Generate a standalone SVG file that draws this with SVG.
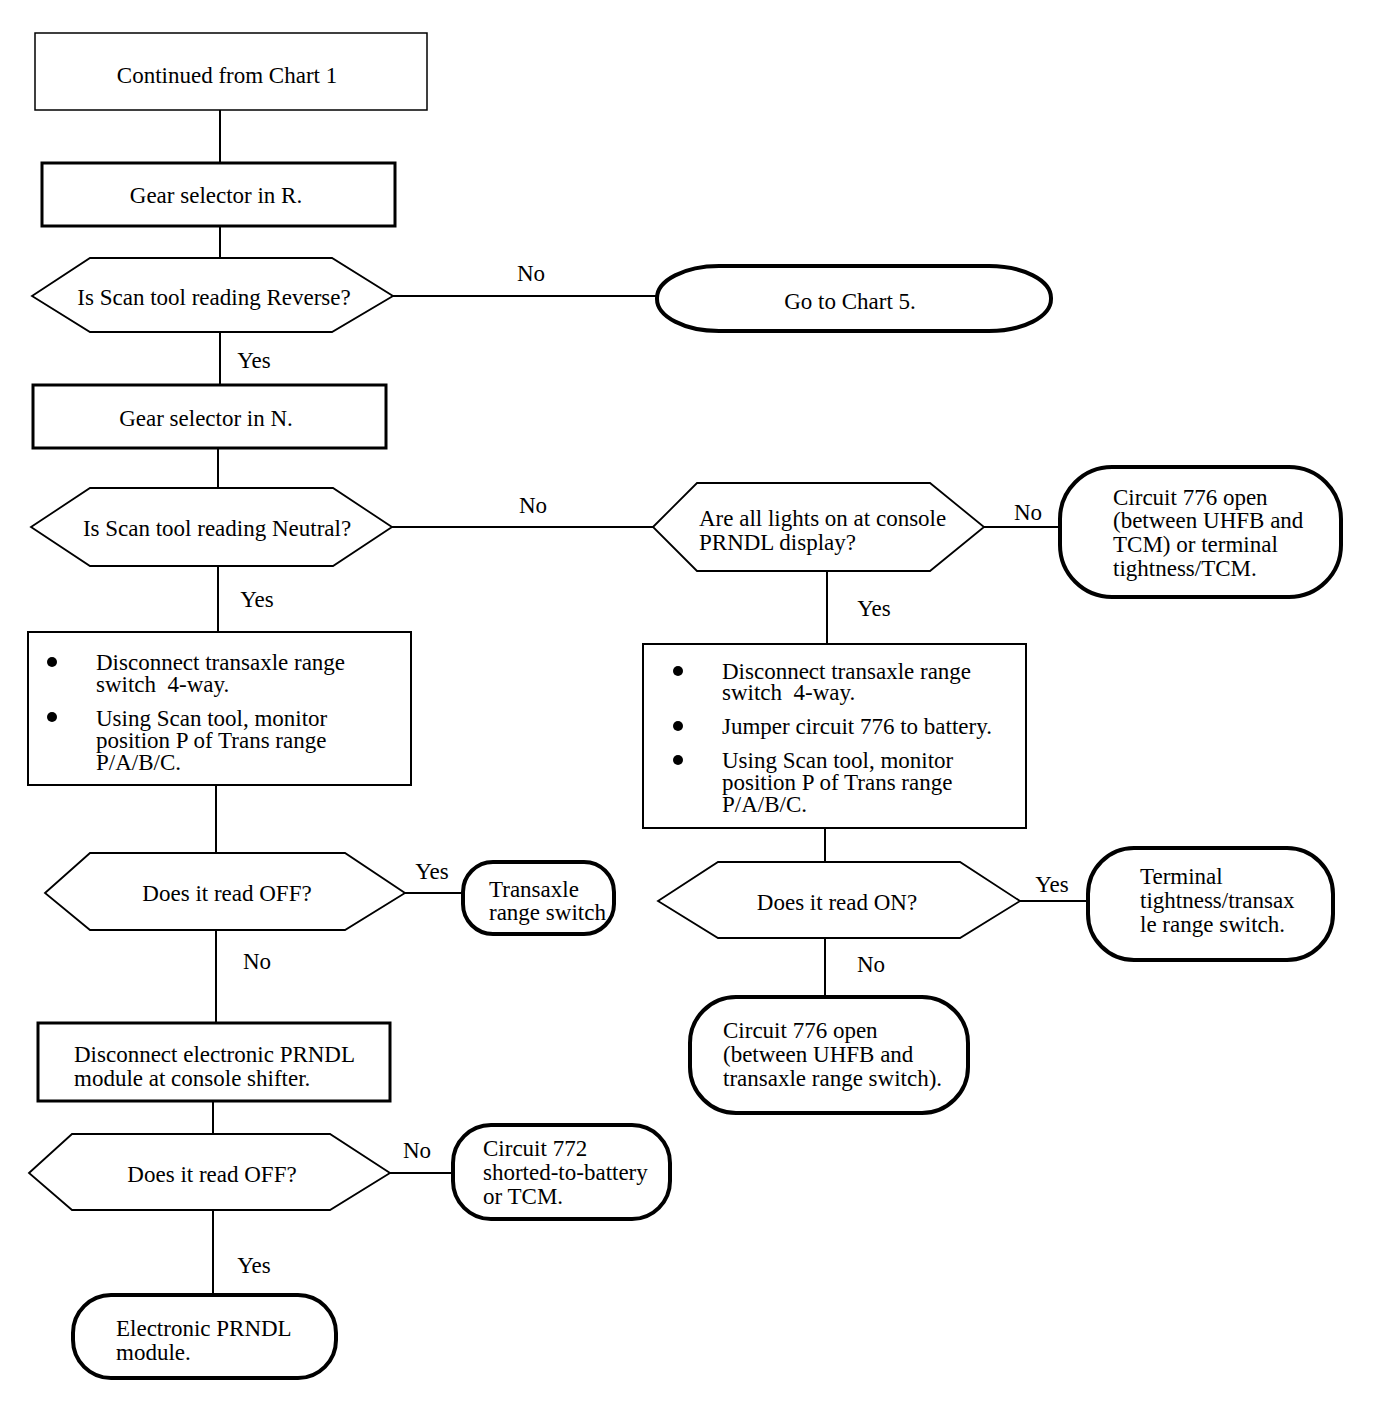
<svg xmlns="http://www.w3.org/2000/svg" width="1376" height="1404" viewBox="0 0 1376 1404">
<style>
text{font-family:"Liberation Serif","Times New Roman",serif;font-size:23px;fill:#000;white-space:pre}
.c{text-anchor:middle}
.box{fill:#fff;stroke:#000;stroke-width:2}
.boxb{fill:#fff;stroke:#000;stroke-width:3}
.hex{fill:#fff;stroke:#000;stroke-width:1.8}
.term{fill:#fff;stroke:#000;stroke-width:4}
.conn line{stroke:#000;stroke-width:2}
.dot{fill:#000}
</style>
<rect width="1376" height="1404" fill="#fff"/>
<g class="conn" id="connectors">
<line x1="220" y1="110" x2="220" y2="163"/>
<line x1="220" y1="226" x2="220" y2="258"/>
<line x1="393" y1="296" x2="657" y2="296"/>
<line x1="220" y1="332" x2="220" y2="385"/>
<line x1="218" y1="448" x2="218" y2="488"/>
<line x1="392" y1="527" x2="654" y2="527"/>
<line x1="984" y1="527" x2="1060" y2="527"/>
<line x1="827" y1="571" x2="827" y2="644"/>
<line x1="825" y1="828" x2="825" y2="862"/>
<line x1="1020" y1="901" x2="1088" y2="901"/>
<line x1="825" y1="938" x2="825" y2="997"/>
<line x1="218" y1="566" x2="218" y2="632"/>
<line x1="216" y1="785" x2="216" y2="853"/>
<line x1="405" y1="893" x2="463" y2="893"/>
<line x1="216" y1="930" x2="216" y2="1023"/>
<line x1="213" y1="1101" x2="213" y2="1134"/>
<line x1="390" y1="1173" x2="453" y2="1173"/>
<line x1="213" y1="1210" x2="213" y2="1295"/>
<text x="531" y="281" class="c">No</text>
<text x="254" y="368" class="c">Yes</text>
<text x="533" y="513" class="c">No</text>
<text x="1028" y="520" class="c">No</text>
<text x="874" y="616" class="c">Yes</text>
<text x="257" y="607" class="c">Yes</text>
<text x="432" y="879" class="c">Yes</text>
<text x="1052" y="892" class="c">Yes</text>
<text x="871" y="972" class="c">No</text>
<text x="257" y="969" class="c">No</text>
<text x="417" y="1158" class="c">No</text>
<text x="254" y="1273" class="c">Yes</text>
</g>
<g id="start">
<rect class="box" x="35" y="33" width="392" height="77" style="stroke-width:1.5"/>
<text x="227" y="83" class="c">Continued from Chart 1</text>
</g>
<g id="gearR">
<rect class="boxb" x="42" y="163" width="353" height="63"/>
<text x="216" y="203" class="c">Gear selector in R.</text>
</g>
<g id="qReverse">
<polygon class="hex" points="32,296 90,258 332,258 393,296 332,332 90,332"/>
<text x="214" y="305" class="c">Is Scan tool reading Reverse?</text>
</g>
<g id="chart5">
<rect class="term" x="657" y="266" width="394" height="65" rx="62" ry="32"/>
<text x="850" y="309" class="c">Go to Chart 5.</text>
</g>
<g id="gearN">
<rect class="boxb" x="33" y="385" width="353" height="63"/>
<text x="206" y="426" class="c">Gear selector in N.</text>
</g>
<g id="qNeutral">
<polygon class="hex" points="31,527 90,488 333,488 392,527 333,566 90,566"/>
<text x="217" y="536" class="c">Is Scan tool reading Neutral?</text>
</g>
<g id="qLights">
<polygon class="hex" points="653,527 697,483 930,483 984,527 930,571 697,571"/>
<text x="699" y="526">Are all lights on at console</text>
<text x="699" y="550">PRNDL display?</text>
</g>
<g id="circuit776tcm">
<rect class="term" x="1060" y="467" width="281" height="130" rx="52" ry="52"/>
<text x="1113" y="505">Circuit 776 open</text>
<text x="1113" y="528">(between UHFB and</text>
<text x="1113" y="552">TCM) or terminal</text>
<text x="1113" y="576">tightness/TCM.</text>
</g>
<g id="stepsRight">
<rect class="box" x="643" y="644" width="383" height="184"/>
<circle class="dot" cx="678" cy="671" r="5"/>
<circle class="dot" cx="678" cy="726" r="5"/>
<circle class="dot" cx="678" cy="760" r="5"/>
<text x="722" y="679">Disconnect transaxle range</text>
<text x="722" y="700">switch  4-way.</text>
<text x="722" y="734">Jumper circuit 776 to battery.</text>
<text x="722" y="768">Using Scan tool, monitor</text>
<text x="722" y="790">position P of Trans range</text>
<text x="722" y="812">P/A/B/C.</text>
</g>
<g id="qReadOn">
<polygon class="hex" points="658,901 718,862 960,862 1020,901 960,938 718,938"/>
<text x="837" y="910" class="c">Does it read ON?</text>
</g>
<g id="terminalTightness">
<rect class="term" x="1088" y="848" width="245" height="112" rx="46" ry="46"/>
<text x="1140" y="884">Terminal</text>
<text x="1140" y="908">tightness/transax</text>
<text x="1140" y="932">le range switch.</text>
</g>
<g id="circuit776trs">
<rect class="term" x="690" y="997" width="278" height="116" rx="46" ry="46"/>
<text x="723" y="1038">Circuit 776 open</text>
<text x="723" y="1062">(between UHFB and</text>
<text x="723" y="1086">transaxle range switch).</text>
</g>
<g id="stepsLeft">
<rect class="box" x="28" y="632" width="383" height="153"/>
<circle class="dot" cx="52" cy="662" r="5"/>
<circle class="dot" cx="52" cy="717" r="5"/>
<text x="96" y="670">Disconnect transaxle range</text>
<text x="96" y="692">switch  4-way.</text>
<text x="96" y="726">Using Scan tool, monitor</text>
<text x="96" y="748">position P of Trans range</text>
<text x="96" y="770">P/A/B/C.</text>
</g>
<g id="qReadOff1">
<polygon class="hex" points="45,893 90,853 345,853 405,893 345,930 90,930"/>
<text x="227" y="901" class="c">Does it read OFF?</text>
</g>
<g id="transaxleSwitch">
<rect class="term" x="463" y="862" width="151" height="72" rx="30" ry="30"/>
<text x="489" y="897">Transaxle</text>
<text x="489" y="920">range switch</text>
</g>
<g id="disconnectPRNDL">
<rect class="boxb" x="38" y="1023" width="352" height="78"/>
<text x="74" y="1062">Disconnect electronic PRNDL</text>
<text x="74" y="1086">module at console shifter.</text>
</g>
<g id="qReadOff2">
<polygon class="hex" points="29,1173 72,1134 330,1134 390,1173 330,1210 72,1210"/>
<text x="212" y="1182" class="c">Does it read OFF?</text>
</g>
<g id="circuit772">
<rect class="term" x="453" y="1125" width="217" height="94" rx="38" ry="38"/>
<text x="483" y="1156">Circuit 772</text>
<text x="483" y="1180">shorted-to-battery</text>
<text x="483" y="1204">or TCM.</text>
</g>
<g id="prndlModule">
<rect class="term" x="73" y="1295" width="263" height="83" rx="38" ry="38"/>
<text x="116" y="1336">Electronic PRNDL</text>
<text x="116" y="1360">module.</text>
</g>
</svg>
